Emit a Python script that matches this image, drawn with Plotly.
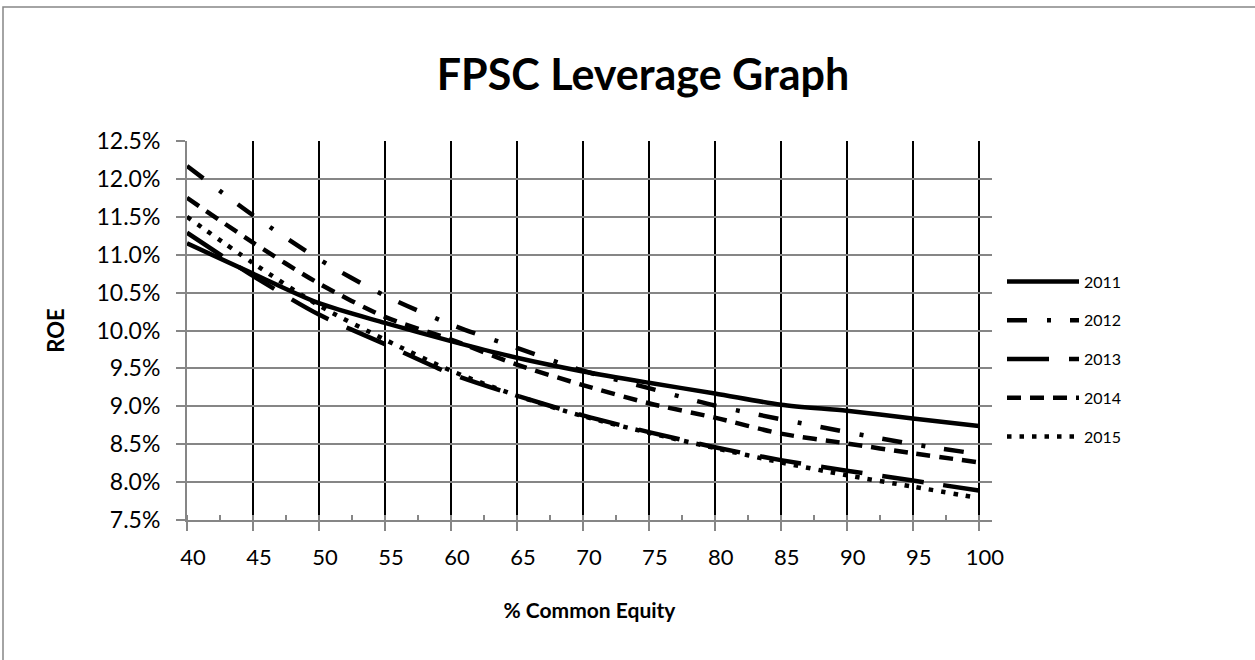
import plotly.graph_objects as go

equity = [40, 45, 50, 55, 60, 65, 70, 75, 80, 85, 90, 95, 100]
roe_2011 = [11.15, 10.75, 10.36, 10.10, 9.86, 9.64, 9.46, 9.31, 9.17, 9.02, 8.94, 8.84, 8.74]
roe_2012 = [12.17, 11.52, 10.94, 10.46, 10.08, 9.77, 9.47, 9.24, 9.01, 8.83, 8.66, 8.50, 8.37]
roe_2013 = [11.29, 10.72, 10.21, 9.82, 9.43, 9.14, 8.88, 8.66, 8.46, 8.29, 8.15, 8.02, 7.89]
roe_2014 = [11.75, 11.16, 10.62, 10.18, 9.88, 9.55, 9.28, 9.04, 8.85, 8.64, 8.51, 8.38, 8.26]
roe_2015 = [11.50, 10.89, 10.33, 9.88, 9.47, 9.14, 8.87, 8.65, 8.45, 8.26, 8.09, 7.94, 7.79]
series_names = ["2011", "2012", "2013", "2014", "2015"]
y_ticks = [7.5, 8.0, 8.5, 9.0, 9.5, 10.0, 10.5, 11.0, 11.5, 12.0, 12.5]
x_ticks = [40, 45, 50, 55, 60, 65, 70, 75, 80, 85, 90, 95, 100]

series = [roe_2011, roe_2012, roe_2013, roe_2014, roe_2015]
dashes = ["solid", "20px,20px,4px,19px", "42px,20px", "14px,9px", "4.5px,8px"]

FONT = "Lato, 'Open Sans', sans-serif"
GRAY = "#868686"

fig = go.Figure()
for name, vals, dash in zip(series_names, series, dashes):
    fig.add_trace(go.Scatter(
        x=equity, y=vals, name=name, mode="lines",
        line=dict(color="black", width=4.5, dash=dash, shape="spline", smoothing=0.8),
        legendgroup=name,
    ))

W, H = 1255, 660
L, R, T, B = 187, 992, 141, 520
pw, ph = R - L, B - T

def px_x(p):
    return (p - L) / pw

def px_y(p):
    return (B - p) / ph

fig.update_layout(
    width=W, height=H,
    margin=dict(l=L, r=W - R, t=T, b=H - B, autoexpand=False),
    paper_bgcolor="white", plot_bgcolor="white",
    font=dict(family=FONT, color="black", size=22),
    title=dict(text="<b>FPSC Leverage Graph</b>", x=643 / W, xanchor="center",
               xref="container",
               y=1 - 75 / H, yanchor="middle",
               font=dict(family=FONT, size=43, color="black")),
    showlegend=True,
    legend=dict(x=px_x(1002), xanchor="left", y=px_y(359), yanchor="middle",
                font=dict(family=FONT, size=16, color="black"),
                tracegroupgap=15, itemwidth=72, bgcolor="rgba(0,0,0,0)"),
    shapes=[dict(type="rect", xref="paper", yref="paper",
                 x0=px_x(3), x1=px_x(1262), y0=px_y(667), y1=px_y(7),
                 line=dict(color=GRAY, width=1.5), fillcolor="rgba(0,0,0,0)", layer="below")],
)

fig.update_xaxes(
    range=[40, 101], tickvals=x_ticks, ticktext=[str(v) for v in x_ticks],
    showline=True, linecolor=GRAY, linewidth=2,
    ticks="outside", ticklen=9, tickcolor=GRAY, tickwidth=2,
    showgrid=True, gridcolor="black", gridwidth=2,
    minor=dict(ticks="inside", ticklen=5, tickcolor=GRAY, tickwidth=2, dtick=2.5, tick0=40, showgrid=False),
    tickfont=dict(size=22), ticklabelshift=6, ticklabelstandoff=8,
    title=dict(text="<b>% Common Equity</b>", font=dict(size=21), standoff=34),
    zeroline=False,
)
fig.update_yaxes(
    range=[7.5, 12.5], tickvals=y_ticks, ticktext=[f"{v:.1f}%" for v in y_ticks],
    showline=True, linecolor=GRAY, linewidth=2,
    ticks="outside", ticklen=9, tickcolor=GRAY, tickwidth=2,
    showgrid=True, gridcolor=GRAY, gridwidth=2,
    tickfont=dict(size=23), ticklabelstandoff=11,
    title=dict(text="<b>ROE</b>", font=dict(size=22), standoff=26),
    zeroline=False,
)

fig.write_html("out.html", config={"displayModeBar": False},
               post_script="document.body.style.margin='0';")
